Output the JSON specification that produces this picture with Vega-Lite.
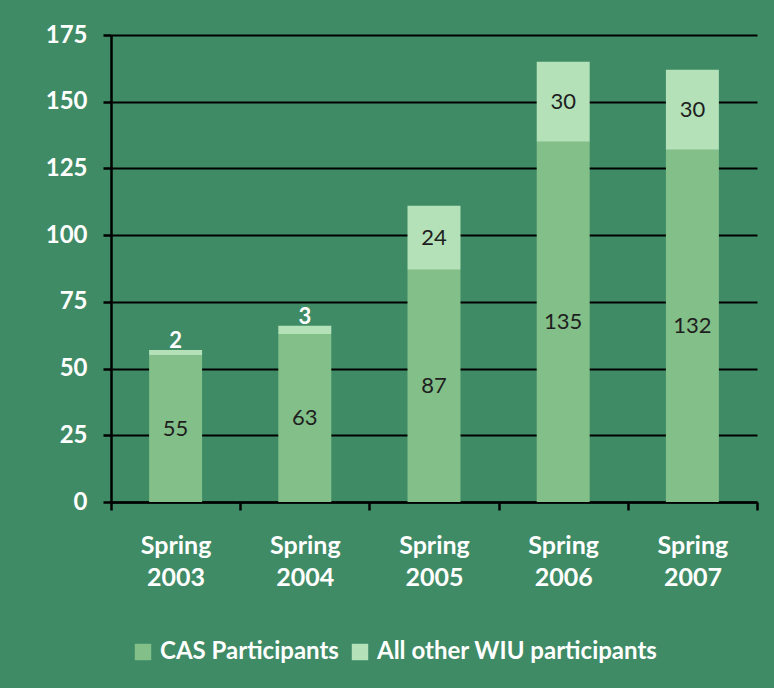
{
  "$schema": "https://vega.github.io/schema/vega-lite/v6.json",
  "width": 646,
  "height": 467,
  "autosize": {"type": "none"},
  "padding": {"left": 111, "top": 35, "right": 17, "bottom": 186},
  "background": "#3f8b66",
  "config": {
    "view": {"stroke": null},
    "font": "Lato"
  },
  "data": {
    "values": [
      {"term": "Spring 2003", "group": "CAS Participants", "count": 55},
      {"term": "Spring 2003", "group": "All other WIU participants", "count": 2},
      {"term": "Spring 2004", "group": "CAS Participants", "count": 63},
      {"term": "Spring 2004", "group": "All other WIU participants", "count": 3},
      {"term": "Spring 2005", "group": "CAS Participants", "count": 87},
      {"term": "Spring 2005", "group": "All other WIU participants", "count": 24},
      {"term": "Spring 2006", "group": "CAS Participants", "count": 135},
      {"term": "Spring 2006", "group": "All other WIU participants", "count": 30},
      {"term": "Spring 2007", "group": "CAS Participants", "count": 132},
      {"term": "Spring 2007", "group": "All other WIU participants", "count": 30}
    ]
  },
  "transform": [
    {"stack": "count", "groupby": ["term"], "as": ["y0", "y1"], "sort": [{"field": "group", "order": "descending"}]}
  ],
  "encoding": {
    "x": {
      "field": "term",
      "type": "nominal",
      "title": null,
      "scale": {"paddingInner": 0, "paddingOuter": 0},
      "axis": {
        "labelAngle": 0,
        "labelExpr": "split(datum.label, ' ')",
        "labelColor": "white",
        "labelFont": "Lato",
        "labelFontWeight": "bold",
        "labelFontSize": 25,
        "labelLineHeight": 32,
        "labelPadding": 23,
        "labelBaseline": "top",
        "domainColor": "black",
        "domainWidth": 2.5,
        "tickColor": "black",
        "tickWidth": 2.5,
        "tickSize": 8,
        "tickBand": "extent",
        "grid": false
      }
    }
  },
  "layer": [
    {
      "mark": {"type": "bar", "width": {"band": 0.41}},
      "encoding": {
        "y": {
          "field": "y0",
          "type": "quantitative",
          "title": null,
          "scale": {"domain": [0, 175], "nice": false},
          "axis": {
            "values": [0, 25, 50, 75, 100, 125, 150, 175],
            "grid": true,
            "gridColor": "black",
            "gridWidth": 2,
            "gridOpacity": 1,
            "domainColor": "black",
            "domainWidth": 2.5,
            "tickColor": "black",
            "tickWidth": 2.5,
            "tickSize": 8,
            "labelPadding": 16,
            "labelColor": "white",
            "labelFont": "Lato",
            "labelFontWeight": "bold",
            "labelFontSize": 24,
            "zindex": 0
          }
        },
        "y2": {"field": "y1"},
        "color": {
          "field": "group",
          "type": "nominal",
          "scale": {"domain": ["CAS Participants", "All other WIU participants"], "range": ["#83bf88", "#b4e1b8"]},
          "legend": {
            "title": null,
            "orient": "none",
            "direction": "horizontal",
            "legendX": 20,
            "legendY": 605,
            "symbolType": "square",
            "symbolSize": 270,
            "symbolStrokeWidth": 0,
            "symbolOpacity": 1,
            "labelColor": "white",
            "labelFont": "Lato",
            "labelFontWeight": "bold",
            "labelFontSize": 24,
            "labelOffset": 5,
            "labelLimit": 0,
            "columnPadding": 9
          }
        }
      }
    },
    {
      "transform": [
        {"filter": "datum.count >= 10"},
        {"fold": ["y0", "y1"], "as": ["edge", "edgeValue"]}
      ],
      "mark": {"type": "text", "color": "#1e1e1e", "fontSize": 22, "font": "Lato", "baseline": "middle"},
      "encoding": {
        "y": {"field": "edgeValue", "type": "quantitative", "aggregate": "mean"},
        "detail": {"field": "group"},
        "text": {"field": "count", "type": "quantitative"}
      }
    },
    {
      "transform": [{"filter": "datum.count < 10"}],
      "mark": {"type": "text", "color": "white", "fontSize": 22, "font": "Lato", "fontWeight": "bold", "baseline": "bottom", "dy": 3},
      "encoding": {
        "y": {"field": "y1", "type": "quantitative"},
        "text": {"field": "count", "type": "quantitative"}
      }
    }
  ]
}
